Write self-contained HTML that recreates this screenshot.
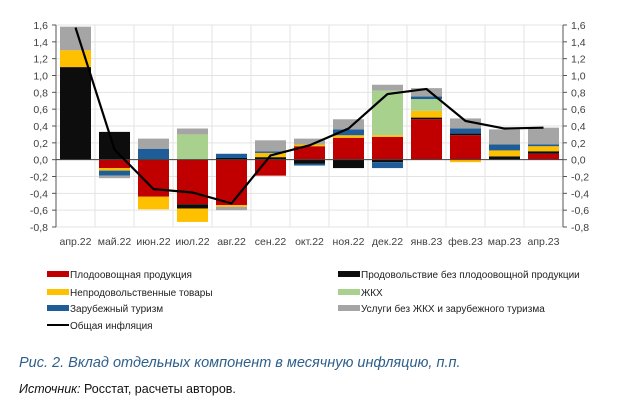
<!DOCTYPE html>
<html><head><meta charset="utf-8"><style>
body{margin:0;background:#fff;width:620px;height:415px;overflow:hidden;font-family:"Liberation Sans","DejaVu Sans",sans-serif}
svg{position:absolute;left:0;top:0}
</style></head><body>
<svg id="c" width="620" height="415"></svg>
<script>
const categories=["апр.22","май.22","июн.22","июл.22","авг.22","сен.22","окт.22","ноя.22","дек.22","янв.23","фев.23","мар.23","апр.23"];
const food=[0,-0.1,-0.44,-0.53,-0.54,-0.19,0.16,0.26,0.27,0.48,0.29,0,0.07];
const foodOther=[1.1,0.33,0,-0.05,0.02,0.03,-0.05,-0.1,-0.03,0.02,0.02,0.04,0.03];
const nonFood=[0.2,-0.03,-0.15,-0.16,-0.02,0.05,0.02,0.03,0.02,0.08,-0.03,0.07,0.06];
const housing=[0,0,0,0.3,0,0,0,0,0.53,0.14,0,0,0];
const tourism=[0,-0.06,0.13,0,0.05,0.02,-0.02,0.07,-0.07,0.03,0.06,0.07,0.02];
const services=[0.28,-0.03,0.12,0.07,-0.04,0.13,0.07,0.12,0.07,0.1,0.12,0.18,0.2];
const inflation=[1.57,0.12,-0.35,-0.39,-0.52,0.05,0.17,0.37,0.78,0.84,0.46,0.37,0.38];
const yTicks=[1.6,1.4,1.2,1.0,0.8,0.6,0.4,0.2,0,-0.2,-0.4,-0.6,-0.8];
const series=[
 {name:"Плодоовощная продукция",vals:food,color:"#c00000",key:"food"},
 {name:"Продовольствие без плодоовощной продукции",vals:foodOther,color:"#0d0d0d",key:"food-other"},
 {name:"Непродовольственные товары",vals:nonFood,color:"#ffc000",key:"non-food"},
 {name:"ЖКХ",vals:housing,color:"#a9d18e",key:"housing"},
 {name:"Зарубежный туризм",vals:tourism,color:"#1f5d99",key:"tourism"},
 {name:"Услуги без ЖКХ и зарубежного туризма",vals:services,color:"#a5a5a5",key:"services"}];
const NS="http://www.w3.org/2000/svg",svg=document.getElementById('c');
function mk(t,a,p){const e=document.createElementNS(NS,t);for(const k in a)e.setAttribute(k,a[k]);(p||svg).appendChild(e);return e;}
const L=56,R=563,T=25,B=227,ymin=-0.8,ymax=1.6;
const y=v=>T+(ymax-v)/(ymax-ymin)*(B-T);
const bw=(R-L)/categories.length;
const x=i=>L+bw*(i+0.5);
// grid
yTicks.forEach(t=>{const g=mk('line',{x1:L,x2:R,y1:y(t),y2:y(t),stroke:'#e3e3e3','stroke-width':1});

const a=mk('text',{x:L-8,y:y(t)+4,'text-anchor':'end','font-size':10.5,fill:'#404040'});a.textContent=t.toFixed(1).replace('.',',');

const b=mk('text',{x:R+8,y:y(t)+4,'font-size':10.5,fill:'#404040'});b.textContent=t.toFixed(1).replace('.',',');

mk('line',{x1:R,x2:R+4,y1:y(t),y2:y(t),stroke:'#555'});mk('line',{x1:L-4,x2:L,y1:y(t),y2:y(t),stroke:'#555'});});
categories.forEach((c,i)=>{if(i>0){const g=mk('line',{x1:L+bw*i,x2:L+bw*i,y1:T,y2:B,stroke:'#e3e3e3'});
}
const t=mk('text',{x:x(i),y:B+18,'text-anchor':'middle','font-size':10.5,fill:'#404040'});t.textContent=c;
});
// bars
categories.forEach((c,i)=>{let pos=0,neg=0;series.forEach(s=>{const v=s.vals[i];if(!v)return;let y0,y1;
if(v>0){y0=pos;y1=pos+v;pos=y1;}else{y0=neg;y1=neg+v;neg=y1;}
const r=mk('rect',{x:x(i)-15.5,y:Math.min(y(y0),y(y1)),width:31,height:Math.abs(y(y1)-y(y0)),fill:s.color});
});});
// axes
const a1=mk('line',{x1:L,x2:L,y1:T,y2:B,stroke:'#555'});
const a2=mk('line',{x1:R,x2:R,y1:T,y2:B,stroke:'#555'});
const a3=mk('line',{x1:L,x2:R,y1:y(0),y2:y(0),stroke:'#444'});
const ln=mk('polyline',{points:inflation.map((v,i)=>x(i)+','+y(v)).join(' '),fill:'none',stroke:'#000','stroke-width':2.2});

// legend
const leg=[[series[0],47,274],[series[1],338,274],[series[2],47,292],[series[3],338,292],[series[4],47,308],[series[5],338,308]];
leg.forEach(([s,lx,ly])=>{const r=mk('rect',{x:lx,y:ly-3,width:22,height:6,fill:s.color});

const t=mk('text',{x:lx+23,y:ly+4,'font-size':10,fill:'#222'});t.textContent=s.name;
});
const ll=mk('line',{x1:47,x2:69,y1:325,y2:325,stroke:'#000','stroke-width':2});
const lt=mk('text',{x:70,y:329,'font-size':10,fill:'#222'});lt.textContent="Общая инфляция";

const cap=mk('text',{x:19,y:367,'font-size':14.5,'font-style':'italic',fill:'#2e5f8a'});cap.textContent="Рис. 2. Вклад отдельных компонент в месячную инфляцию, п.п.";

const src=mk('text',{x:19,y:393,'font-size':12.5,fill:'#111'});
const i1=mk('tspan',{'font-style':'italic'},src);i1.textContent="Источник:";
const i2=mk('tspan',{},src);i2.textContent=" Росстат, расчеты авторов.";

</script>
</body></html>
